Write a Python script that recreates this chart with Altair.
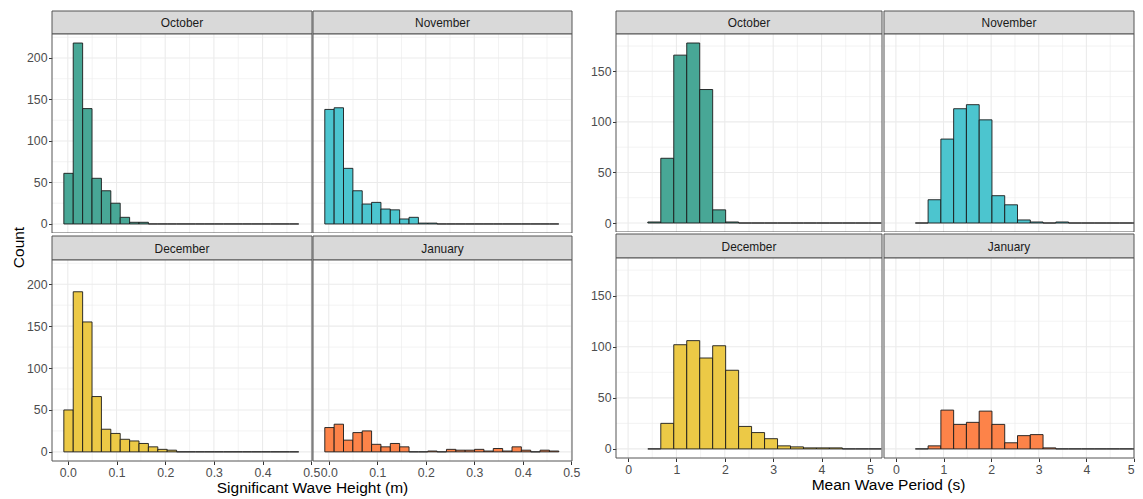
import altair as alt
import pandas as pd

FONT = "Liberation Sans"
MONTHS = ["October", "November", "December", "January"]
FILLS = ["#48A796", "#4CC5CF", "#ECC946", "#FD8349"]

# Significant wave height histograms (25 shared bins)
HS_BIN_START = -0.0082
HS_BIN_WIDTH = 0.0193
HS_OCT = [61, 218, 139, 55, 40, 25, 8, 2, 2, 0, 0, 0, 0, 0, 0, 0, 0, 0, 0, 0, 0, 0, 0, 0, 0]
HS_NOV = [138, 140, 67, 40, 24, 26, 18, 17, 6, 8, 1, 1, 0, 0, 0, 0, 0, 0, 0, 0, 0, 0, 0, 0, 0]
HS_DEC = [50, 191, 155, 66, 27, 22, 15, 13, 10, 6, 3, 2, 0, 0, 0, 0, 0, 0, 0, 0, 0, 0, 0, 0, 0]
HS_JAN = [29, 33, 14, 23, 25, 9, 6, 10, 6, 0, 0, 1, 0, 3, 2, 2, 3, 1, 4, 1, 6, 2, 0, 2, 1]

# Mean wave period histograms (18 shared bins)
TP_BIN_START = 0.408
TP_BIN_WIDTH = 0.2682
TP_OCT = [1, 64, 166, 178, 132, 13, 1, 0, 0, 0, 0, 0, 0, 0, 0, 0, 0, 0]
TP_NOV = [0, 23, 83, 113, 117, 102, 27, 18, 3, 1, 0, 1, 0, 0, 0, 0, 0, 0]
TP_DEC = [0, 25, 102, 106, 89, 101, 77, 22, 16, 10, 3, 2, 1, 1, 1, 0, 0, 0]
TP_JAN = [0, 3, 38, 24, 26, 37, 24, 6, 13, 14, 1, 0, 0, 0, 0, 0, 0, 0]

HS_X_MAJOR = [0.0, 0.1, 0.2, 0.3, 0.4, 0.5]
HS_X_MINOR = [0.05, 0.15, 0.25, 0.35, 0.45]
HS_Y_MAJOR = [0, 50, 100, 150, 200]
HS_Y_MINOR = [25, 75, 125, 175, 225]
TP_X_MAJOR = [0, 1, 2, 3, 4, 5]
TP_X_MINOR = [0.5, 1.5, 2.5, 3.5, 4.5]
TP_Y_MAJOR = [0, 50, 100, 150]
TP_Y_MINOR = [25, 75, 125, 175]

HS_TITLE = "Significant Wave Height (m)"
TP_TITLE = "Mean Wave Period (s)"
Y_TITLE = "Count"

GRID = "#EBEBEB"
BORDER = "#555555"
STRIP_FILL = "#D9D9D9"
TICK_FS = 12.3
TITLE_FS = 15.5


def hist_df(start, width, counts):
    x0 = [start + i * width for i in range(len(counts))]
    return pd.DataFrame({"x0": x0, "x1": [v + width for v in x0], "count": counts,
                         "base": [0] * len(counts)})


def make_x_axis(values, fmt, flush, title=None, tx=0, ty=0):
    kw = dict(values=values, format=fmt, grid=False, domain=False, ticks=True,
              tickSize=3.5, tickWidth=1, tickColor="#333333", labelColor="#4D4D4D",
              labelFont=FONT, labelFontSize=TICK_FS, labelPadding=1.5, labelFlush=flush,
              labelOverlap=False)
    if title:
        kw.update(title=title, titleX=tx, titleY=ty, titleFont=FONT, titleFontSize=TITLE_FS,
                  titleFontWeight="normal", titleColor="#000000", titleBaseline="top",
                  titleAlign="center", titleAngle=0)
    else:
        kw["title"] = None
    return alt.Axis(**kw)


def make_y_axis(values, title=None, tx=0, ty=0):
    kw = dict(values=values, format="d", grid=False, domain=False, ticks=True,
              tickSize=3.5, tickWidth=1, tickColor="#333333", labelColor="#4D4D4D",
              labelFont=FONT, labelFontSize=TICK_FS, labelPadding=1.5, labelOverlap=False)
    if title:
        kw.update(title=title, titleX=tx, titleY=ty, titleFont=FONT, titleFontSize=TITLE_FS,
                  titleFontWeight="normal", titleColor="#000000", titleBaseline="middle",
                  titleAlign="center", titleAngle=270)
    else:
        kw["title"] = None
    return alt.Axis(**kw)


def strip(label, w, h, top_gap):
    df = pd.DataFrame({"label": [label]})
    bg = alt.Chart(df).mark_rect(fill=STRIP_FILL, stroke=BORDER, strokeWidth=1).encode(
        x=alt.value(0), x2=alt.value(w), y=alt.value(top_gap), y2=alt.value(top_gap + h))
    txt = alt.Chart(df).mark_text(font=FONT, fontSize=11.9, color="#1A1A1A",
                                  baseline="middle").encode(
        x=alt.value(w / 2), y=alt.value(top_gap + h / 2 + 0.5), text="label:N")
    return alt.layer(bg, txt).properties(width=w, height=h + top_gap)


def panel(df, color, xdom, ydom, w, h, xmaj, xmin, ymaj, ymin, xaxis, yaxis):
    xs = alt.Scale(domain=xdom, nice=False, zero=False)
    ys = alt.Scale(domain=ydom, nice=False, zero=False)
    bars = alt.Chart(df).mark_rect(fill=color, stroke="#1A1A1A", strokeWidth=0.9,
                                   clip=True).encode(
        x=alt.X("x0:Q", scale=xs, axis=xaxis),
        x2="x1",
        y=alt.Y("count:Q", scale=ys, axis=yaxis),
        y2="base",
    )
    gx_min = alt.Chart(pd.DataFrame({"x0": xmin})).mark_rule(color=GRID, strokeWidth=0.6).encode(
        x=alt.X("x0:Q", scale=xs, axis=xaxis))
    gx_maj = alt.Chart(pd.DataFrame({"x0": xmaj})).mark_rule(color=GRID, strokeWidth=1.1).encode(
        x=alt.X("x0:Q", scale=xs, axis=xaxis))
    gy_min = alt.Chart(pd.DataFrame({"count": ymin})).mark_rule(color=GRID, strokeWidth=0.6).encode(
        y=alt.Y("count:Q", scale=ys, axis=yaxis))
    gy_maj = alt.Chart(pd.DataFrame({"count": ymaj})).mark_rule(color=GRID, strokeWidth=1.1).encode(
        y=alt.Y("count:Q", scale=ys, axis=yaxis))
    border = alt.Chart(pd.DataFrame({"b": [0]})).mark_rect(
        fillOpacity=0, stroke=BORDER, strokeWidth=1).encode(
        x=alt.value(0), x2=alt.value(w), y=alt.value(0), y2=alt.value(h))
    return alt.layer(gx_min, gx_maj, gy_min, gy_maj, bars, border).properties(width=w, height=h)


def group(data, start, width, xdoms, ydom, widths, strip_h, plot_h, row_gap, col_gap,
          xmaj, xmin, ymaj, ymin, xfmt, xtitle, xtitle_x, flush_right, count_title):
    items = []
    for r in range(2):
        for c in range(2):
            gap = 0 if r == 0 else row_gap
            items.append(strip(MONTHS[2 * r + c], widths[c], strip_h[r], gap))
        for c in range(2):
            i = 2 * r + c
            if r == 1:
                if c == 0:
                    xa = make_x_axis(xmaj, xfmt, False, xtitle, xtitle_x, 19)
                else:
                    xa = make_x_axis(xmaj, xfmt, flush_right)
            else:
                xa = None
            if c == 0:
                if r == 0 and count_title:
                    ya = make_y_axis(ymaj, Y_TITLE, -34, 213)
                else:
                    ya = make_y_axis(ymaj)
            else:
                ya = None
            df = hist_df(start, width, data[i])
            items.append(panel(df, FILLS[i], xdoms[c], ydom, widths[c], plot_h[r],
                               xmaj, xmin, ymaj, ymin, xa, ya))
    return alt.concat(*items, columns=2, spacing={"row": 0, "column": col_gap}, bounds="flush")


left_group = group([HS_OCT, HS_NOV, HS_DEC, HS_JAN], HS_BIN_START, HS_BIN_WIDTH,
                   [[-0.0325, 0.5015], [-0.0325, 0.5015]], [-10.9, 228.9],
                   [260, 259], [23, 24], [199, 201], 3, 1,
                   HS_X_MAJOR, HS_X_MINOR, HS_Y_MAJOR, HS_Y_MINOR, ".1f",
                   HS_TITLE, 260, False, True)

right_group = group([TP_OCT, TP_NOV, TP_DEC, TP_JAN], TP_BIN_START, TP_BIN_WIDTH,
                    [[-0.25, 5.25], [-0.25, 5.0]], [-8.9, 186.9],
                    [266, 250], [23, 24], [198, 200], 2, 2,
                    TP_X_MAJOR, TP_X_MINOR, TP_Y_MAJOR, TP_Y_MINOR, "d",
                    TP_TITLE, 272, True, False)

chart = alt.hconcat(left_group, right_group, spacing=10).properties(
    padding={"left": 3, "top": 2, "right": 0, "bottom": 0},
    background="white",
).configure_view(strokeWidth=0, fill="white")

chart.save("out.html", embed_options={"renderer": "svg", "actions": False})
